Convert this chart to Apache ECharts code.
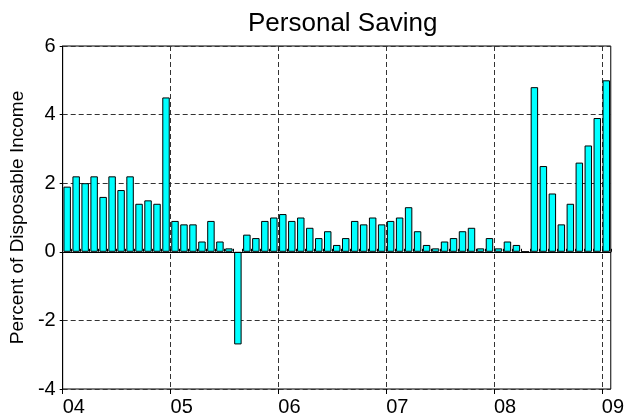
<!DOCTYPE html>
<html>
<head>
<meta charset="utf-8">
<script src="https://cdn.jsdelivr.net/npm/echarts@6/dist/echarts.min.js"></script>
<style>
  html, body { margin: 0; padding: 0; background: #fff; }
  #chart { width: 627px; height: 417px; }
</style>
</head>
<body>
<div id="chart"></div>
<script>
/* Personal saving, monthly, Jan 2004 - Jan 2009 */
var months = [
  '2004-01','2004-02','2004-03','2004-04','2004-05','2004-06','2004-07','2004-08','2004-09','2004-10','2004-11','2004-12',
  '2005-01','2005-02','2005-03','2005-04','2005-05','2005-06','2005-07','2005-08','2005-09','2005-10','2005-11','2005-12',
  '2006-01','2006-02','2006-03','2006-04','2006-05','2006-06','2006-07','2006-08','2006-09','2006-10','2006-11','2006-12',
  '2007-01','2007-02','2007-03','2007-04','2007-05','2007-06','2007-07','2007-08','2007-09','2007-10','2007-11','2007-12',
  '2008-01','2008-02','2008-03','2008-04','2008-05','2008-06','2008-07','2008-08','2008-09','2008-10','2008-11','2008-12',
  '2009-01'
];
var saving = [
  1.9, 2.2, 2.0, 2.2, 1.6, 2.2, 1.8, 2.2, 1.4, 1.5, 1.4, 4.5,
  0.9, 0.8, 0.8, 0.3, 0.9, 0.3, 0.1, -2.7, 0.5, 0.4, 0.9, 1.0,
  1.1, 0.9, 1.0, 0.7, 0.4, 0.6, 0.2, 0.4, 0.9, 0.8, 1.0, 0.8,
  0.9, 1.0, 1.3, 0.6, 0.2, 0.1, 0.3, 0.4, 0.6, 0.7, 0.1, 0.4,
  0.1, 0.3, 0.2, 0.0, 4.8, 2.5, 1.7, 0.8, 1.4, 2.6, 3.1, 3.9,
  5.0
];
var yearLabels = ['04', '05', '06', '07', '08', '09'];
var yTicks = { min: -4, max: 6, step: 2 };

// month boundaries (one more than months), labelled at each January
var bounds = [];
for (var i = 0; i <= months.length; i++) {
  bounds.push(i % 12 === 0 ? (yearLabels[i / 12] || '') : '');
}
function everyYear(idx) { return idx % 12 === 0; }

var font = 'Liberation Sans, Arial, sans-serif';
var dash = { color: '#333', width: 1, type: [5, 3] };

var chart = echarts.init(document.getElementById('chart'));
chart.setOption({
  animation: false,
  title: {
    text: 'Personal Saving',
    left: 243,
    top: 6,
    textStyle: { fontFamily: font, fontSize: 26, fontWeight: 'normal', color: '#000' }
  },
  grid: {
    left: 61, right: 14, top: 46, bottom: 27,
    show: true, borderColor: '#000', borderWidth: 1, backgroundColor: '#fff'
  },
  xAxis: [{
    type: 'category',
    data: months,
    boundaryGap: true,
    axisLine: { lineStyle: { color: '#000', width: 1 } },
    axisTick: { show: true, interval: 0, inside: true, length: 3, lineStyle: { color: '#000' } },
    axisLabel: { show: false },
    splitLine: { show: false }
  }, {
    type: 'category',
    position: 'bottom',
    data: bounds,
    boundaryGap: false,
    axisLine: { show: false },
    axisTick: { show: true, interval: everyYear, length: 5, lineStyle: { color: '#000' } },
    axisLabel: {
      interval: everyYear, align: 'left', margin: 8,
      fontFamily: font, fontSize: 20, color: '#000'
    },
    splitLine: { show: true, interval: everyYear, lineStyle: dash }
  }],
  yAxis: {
    type: 'value',
    min: yTicks.min, max: yTicks.max, interval: yTicks.step,
    name: 'Percent of Disposable Income',
    nameLocation: 'middle',
    nameGap: 35,
    nameTextStyle: { fontFamily: font, fontSize: 19, color: '#000' },
    axisLine: { show: true, lineStyle: { color: '#000', width: 1 } },
    axisTick: { show: true, length: 3, lineStyle: { color: '#000' } },
    axisLabel: { margin: 7, fontFamily: font, fontSize: 20, color: '#000' },
    splitLine: { show: true, lineStyle: dash }
  },
  series: [{
    type: 'bar',
    data: saving,
    barCategoryGap: '17%',
    itemStyle: { color: '#00ffff', borderColor: '#000', borderWidth: 1 },
    markLine: {
      silent: true,
      symbol: 'none',
      label: { show: false },
      lineStyle: { color: '#000', width: 1, type: 'solid' },
      data: [{ yAxis: 0 }]
    }
  }]
});
</script>
</body>
</html>
